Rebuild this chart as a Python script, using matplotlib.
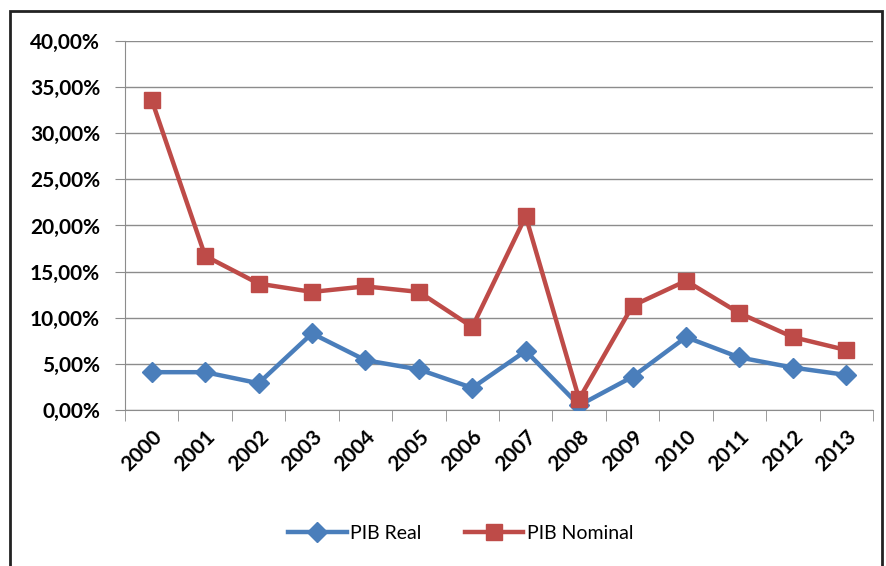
import matplotlib.pyplot as plt
from matplotlib.patches import Rectangle
from matplotlib.ticker import FuncFormatter, FixedLocator

plt.rcParams['font.family'] = ['Lato', 'DejaVu Sans']

# SERIES
years = ['2000', '2001', '2002', '2003', '2004', '2005', '2006',
         '2007', '2008', '2009', '2010', '2011', '2012', '2013']
pib_real = [4.1, 4.1, 2.9, 8.3, 5.4, 4.4, 2.4, 6.4, 0.5, 3.6, 7.9, 5.7, 4.6, 3.8]
pib_nominal = [33.6, 16.7, 13.7, 12.8, 13.4, 12.8, 9.0, 21.0, 1.2, 11.3, 14.0, 10.5, 7.9, 6.5]

BLUE = '#4A7EBB'
RED = '#BE4B48'

fig = plt.figure(figsize=(8.86, 5.66), dpi=100)
ax = fig.add_axes([0.1411, 0.2756, 0.8442, 0.652])

x = list(range(len(years)))
ax.plot(x, pib_real, color=BLUE, lw=3.2, marker='D', ms=10,
        markeredgecolor=BLUE, label='PIB Real', zorder=3)
ax.plot(x, pib_nominal, color=RED, lw=3.2, marker='s', ms=12,
        markeredgecolor=RED, label='PIB Nominal', zorder=4)

ax.set_xlim(-0.5, len(years) - 0.5)
ax.set_ylim(0, 40)
ax.set_yticks(range(0, 41, 5))
ax.yaxis.set_major_formatter(FuncFormatter(lambda v, p: f'{v:.2f}%'.replace('.', ',')))
ax.grid(axis='y', color='#8c8c8c', lw=1)
ax.set_axisbelow(True)

ax.set_xticks(x)
ax.set_xticklabels(years, rotation=45, ha='right', rotation_mode='anchor',
                   fontsize=15, fontweight='bold')
ax.xaxis.set_minor_locator(FixedLocator([i - 0.5 for i in range(len(years) + 1)]))
ax.tick_params(axis='x', which='major', length=0, pad=12)
ax.tick_params(axis='x', which='minor', length=8, color='#8c8c8c')
ax.tick_params(axis='y', length=7, color='#8c8c8c', labelsize=15, pad=11)
for lbl in ax.get_yticklabels():
    lbl.set_fontweight('bold')

for side in ['top', 'right']:
    ax.spines[side].set_visible(False)
ax.spines['left'].set_color('#8c8c8c')
ax.spines['bottom'].set_color('#8c8c8c')

fig.legend(loc='center', bbox_to_anchor=(0.52, 0.058), ncol=2, frameon=False,
           fontsize=14, handlelength=3, columnspacing=2.2, handletextpad=0.2)

# outer frame, open at the bottom
fig.patches.append(Rectangle((10 / 886, -0.05), 872 / 886, 1.05 - 11 / 566,
                             transform=fig.transFigure, fill=False,
                             edgecolor='#222222', lw=2, zorder=10))

fig.savefig('out.png', dpi=100)
